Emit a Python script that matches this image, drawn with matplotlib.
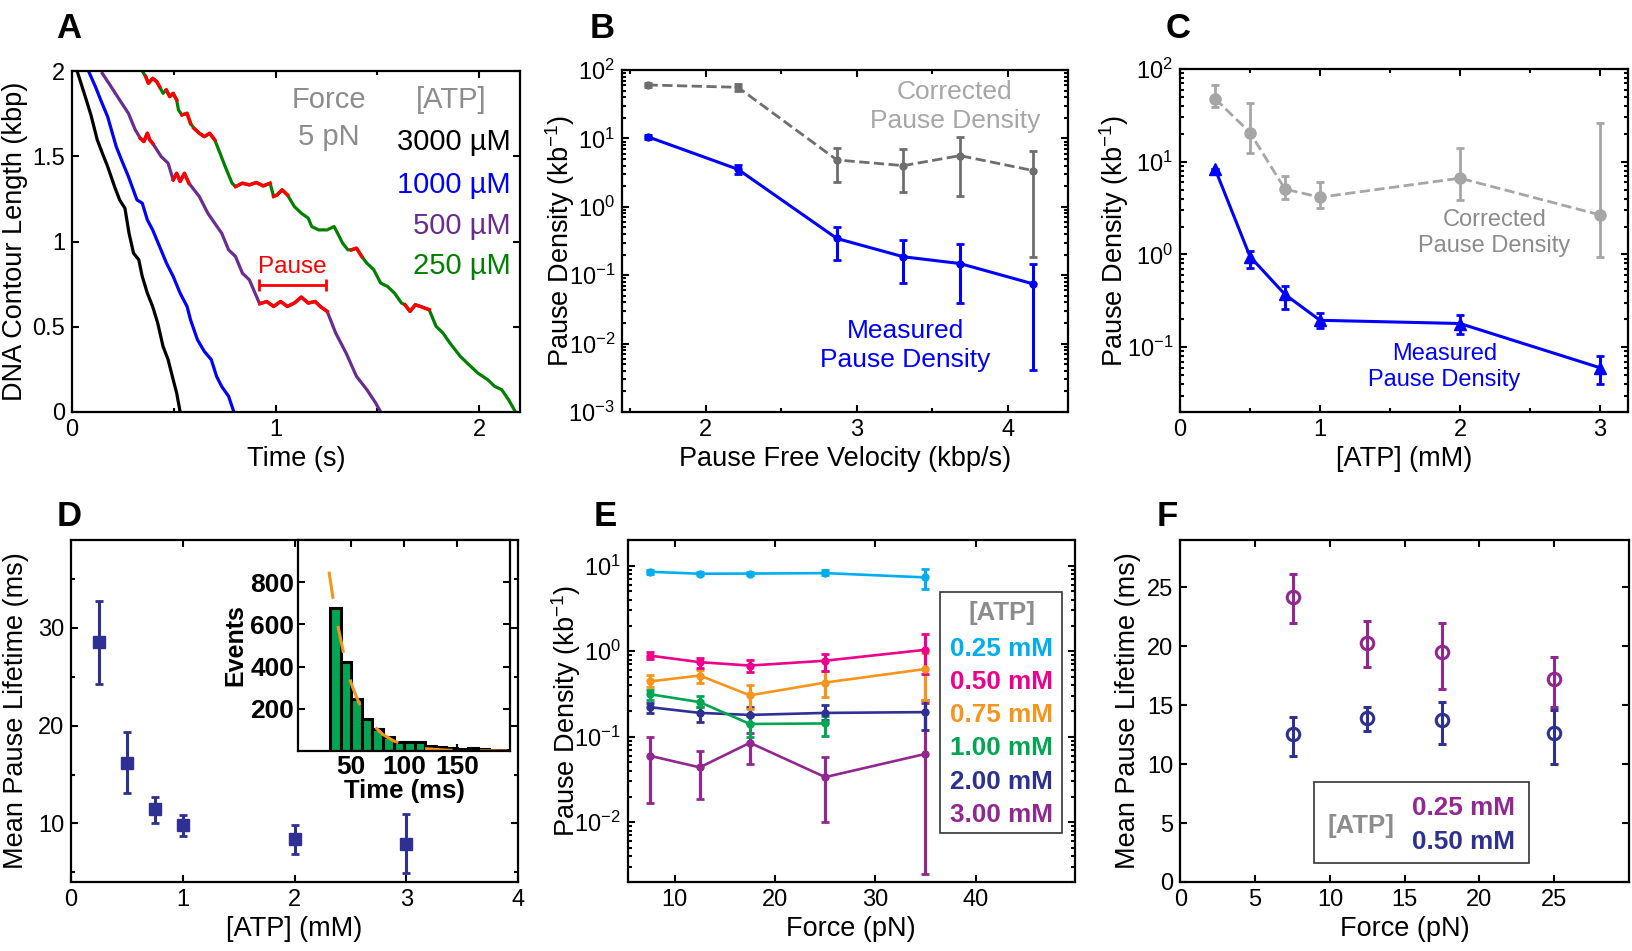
import numpy as np
import matplotlib
matplotlib.use('Agg')
import matplotlib.pyplot as plt
from matplotlib.ticker import MultipleLocator, LogLocator, NullFormatter, FixedLocator
from matplotlib.patches import Rectangle

plt.rcParams['font.family'] = ['Liberation Sans', 'DejaVu Sans']
plt.rcParams['mathtext.fontset'] = 'custom'
plt.rcParams['mathtext.rm'] = 'Liberation Sans'
plt.rcParams['mathtext.default'] = 'regular'
plt.rcParams['axes.unicode_minus'] = False

# ---------------- panel A: traces (time s, contour kbp) ----------------
black_t = [0.025, 0.065, 0.093, 0.124, 0.149, 0.175, 0.209, 0.234, 0.26, 0.28, 0.302, 0.328, 0.345,
           0.37, 0.396, 0.421, 0.447, 0.472, 0.497, 0.514, 0.531]
black_y = [2.0, 1.85, 1.742, 1.596, 1.518, 1.44, 1.322, 1.244, 1.195, 1.049, 0.932, 0.893, 0.795,
           0.697, 0.619, 0.521, 0.385, 0.307, 0.189, 0.111, 0.0]
blue_t = [0.081, 0.115, 0.141, 0.175, 0.217, 0.243, 0.277, 0.319, 0.345, 0.37, 0.396, 0.43, 0.464,
          0.497, 0.531, 0.565, 0.582, 0.616, 0.65, 0.684, 0.71, 0.735, 0.769, 0.795]
blue_y = [2.0, 1.908, 1.83, 1.732, 1.557, 1.479, 1.381, 1.244, 1.225, 1.127, 1.068, 0.971, 0.873,
          0.795, 0.697, 0.619, 0.541, 0.424, 0.355, 0.307, 0.209, 0.15, 0.092, 0.0]
purple_t = [0.149, 0.192, 0.234, 0.277, 0.311, 0.336, 0.353, 0.37, 0.382, 0.396, 0.438, 0.472, 0.497,
            0.514, 0.531, 0.552, 0.574, 0.625, 0.667, 0.701, 0.735, 0.769, 0.803, 0.837, 0.871, 0.913,
            0.922, 0.956, 0.99, 1.024, 1.058, 1.092, 1.126, 1.16, 1.194, 1.219, 1.253,
            1.295, 1.346, 1.397, 1.448, 1.491, 1.516]
purple_y = [1.986, 1.908, 1.83, 1.752, 1.654, 1.605, 1.586, 1.635, 1.596, 1.576, 1.498, 1.459, 1.361,
            1.4, 1.352, 1.4, 1.342, 1.264, 1.166, 1.107, 1.049, 0.951, 0.912, 0.814, 0.775, 0.658,
            0.635, 0.648, 0.619, 0.648, 0.619, 0.639, 0.674, 0.639, 0.648, 0.619, 0.59,
            0.463, 0.346, 0.209, 0.131, 0.053, 0.0]
green_t = [0.345, 0.362, 0.375, 0.396, 0.416, 0.43, 0.447, 0.463, 0.48, 0.497, 0.514, 0.523, 0.54,
           0.565, 0.582, 0.599, 0.625, 0.65, 0.676, 0.701, 0.727, 0.752, 0.786, 0.803, 0.837, 0.871,
           0.905, 0.939, 0.973, 0.99, 1.007, 1.032, 1.058, 1.092, 1.126, 1.16, 1.177, 1.211, 1.253,
           1.287, 1.304, 1.329, 1.355, 1.372, 1.397, 1.423, 1.448, 1.482, 1.516, 1.55, 1.584, 1.618,
           1.635, 1.66, 1.686, 1.711, 1.754, 1.788, 1.822, 1.856, 1.907, 1.941, 1.992, 2.042, 2.076,
           2.11, 2.144, 2.178]
green_y = [2.0, 1.967, 1.928, 1.957, 1.938, 1.908, 1.869, 1.889, 1.85, 1.869, 1.83, 1.771, 1.742,
           1.752, 1.693, 1.664, 1.635, 1.615, 1.635, 1.596, 1.518, 1.44, 1.342, 1.322, 1.342, 1.332,
           1.346, 1.326, 1.342, 1.264, 1.273, 1.303, 1.273, 1.205, 1.166, 1.137, 1.088, 1.068, 1.068,
           1.088, 1.049, 0.99, 0.951, 0.951, 0.961, 0.912, 0.873, 0.834, 0.756, 0.736, 0.697, 0.639,
           0.629, 0.59, 0.629, 0.619, 0.6, 0.502, 0.463, 0.404, 0.326, 0.287, 0.229, 0.189, 0.15,
           0.131, 0.072, 0.0]
purple_pauses = [(0.336, 0.396), (0.497, 0.574), (0.92, 1.253)]
green_pauses = [(0.36, 0.43), (0.455, 0.515), (0.525, 0.585), (0.595, 0.705), (0.80, 0.975),
                (0.99, 1.06), (1.37, 1.425), (1.63, 1.755)]
pause_bar = (0.92, 1.245, 0.745)
atp_labels_A = ['3000 \u00b5M', '1000 \u00b5M', '500 \u00b5M', '250 \u00b5M']

# ---------------- panel B ----------------
vel = [1.616, 2.214, 2.87, 3.31, 3.685, 4.168]
meas_B = [10.6, 3.54, 0.344, 0.186, 0.148, 0.0748]
meas_B_lo = [9.9, 3.0, 0.168, 0.0766, 0.039, 0.00415]
meas_B_hi = [11.3, 4.1, 0.515, 0.33, 0.284, 0.145]
corr_B = [60.4, 55.9, 4.84, 4.0, 5.6, 3.39]
corr_B_lo = [56.0, 49.0, 2.34, 1.67, 1.45, 0.184]
corr_B_hi = [65.0, 62.0, 7.18, 7.0, 10.6, 6.6]

# ---------------- panel C ----------------
atp_C = [0.25, 0.5, 0.75, 1.0, 2.0, 3.0]
meas_C = [8.4, 0.95, 0.37, 0.195, 0.18, 0.06]
meas_C_lo = [8.4, 0.72, 0.26, 0.16, 0.14, 0.0397]
meas_C_hi = [8.4, 1.1, 0.46, 0.235, 0.22, 0.0806]
corr_C = [48.0, 20.6, 5.06, 4.14, 6.65, 2.67]
corr_C_lo = [39.0, 12.4, 4.0, 3.2, 3.9, 0.93]
corr_C_hi = [67.0, 42.6, 7.1, 6.0, 14.0, 26.4]

# ---------------- panel D ----------------
atp_D = [0.25, 0.5, 0.75, 1.0, 2.0, 3.0]
life_D = [28.57, 16.18, 11.43, 9.8, 8.37, 7.93]
life_D_lo = [24.3, 13.1, 10.07, 8.7, 6.85, 4.9]
life_D_hi = [32.8, 19.35, 12.7, 10.85, 9.8, 11.0]
hist_left = [30, 40, 50, 60, 70, 80, 90, 100, 110, 120, 130, 140, 150, 160, 170, 180, 190]
hist_counts = [680, 421, 245, 154, 106, 66, 45, 42, 42, 24, 18, 13, 8, 13, 8, 5, 5]
fit_t = [29, 35, 40, 45, 50, 55, 60, 70, 80, 90, 100, 120, 140, 160, 180, 200]
fit_y = [850, 650, 530, 410, 320, 255, 200, 125, 78, 48, 30, 11, 4, 1.5, 0.6, 0.2]

# ---------------- panel E ----------------
force_E = [7.5, 12.5, 17.5, 25, 35]
atp_E = ['0.25 mM', '0.50 mM', '0.75 mM', '1.00 mM', '2.00 mM', '3.00 mM']
dens_E = [[8.5, 8.06, 8.1, 8.2, 7.3],
          [0.89, 0.745, 0.68, 0.775, 1.04],
          [0.443, 0.52, 0.305, 0.43, 0.62],
          [0.315, 0.254, 0.141, 0.143],
          [0.222, 0.19, 0.18, 0.19, 0.194],
          [0.06, 0.0438, 0.085, 0.0337, 0.063]]
dens_E_lo = [[8.1, 7.7, 7.7, 7.7, 5.4],
             [0.81, 0.64, 0.57, 0.58, 0.54],
             [0.385, 0.42, 0.21, 0.29, 0.27],
             [0.27, 0.22, 0.10, 0.103],
             [0.19, 0.15, 0.145, 0.155, 0.12],
             [0.017, 0.0188, 0.048, 0.0101, 0.0025]]
dens_E_hi = [[8.9, 8.4, 8.5, 8.8, 9.2],
             [0.97, 0.84, 0.79, 0.94, 1.6],
             [0.53, 0.61, 0.40, 0.58, 0.95],
             [0.355, 0.30, 0.173, 0.173],
             [0.245, 0.222, 0.222, 0.235, 0.27],
             [0.10, 0.069, 0.11, 0.058, 0.25]]
colors_E = ['#00aeef', '#ec008c', '#f7941d', '#00a651', '#2e3192', '#92278f']

# ---------------- panel F ----------------
force_F = [7.5, 12.5, 17.5, 25]
atp_F = ['0.25 mM', '0.50 mM']
life_F = [[24.2, 20.3, 19.5, 17.2], [12.57, 13.9, 13.75, 12.6]]
life_F_lo = [[22.0, 18.2, 16.35, 14.8], [10.7, 12.8, 11.7, 10.0]]
life_F_hi = [[26.1, 22.1, 21.95, 19.1], [14.0, 14.8, 15.3, 14.6]]
colors_F = ['#92278f', '#2e3192']

W, H = 1632, 951
fig = plt.figure(figsize=(W / 100, H / 100), dpi=100)
TICK = 17
LAB = 19.5
GRAY = '#8c8c8c'


def px_axes(l, r, t, b):
    return fig.add_axes([l / W, 1 - b / H, (r - l) / W, (b - t) / H])


def style(ax):
    ax.tick_params(which='both', direction='in', top=True, right=True, labelsize=TICK, width=1.5, pad=5)
    ax.tick_params(which='major', length=5)
    ax.tick_params(which='minor', length=3)
    for s in ax.spines.values():
        s.set_linewidth(1.6)


def logstyle(ax):
    ax.set_yscale('log')
    ax.yaxis.set_major_locator(LogLocator(base=10, numticks=12))
    ax.yaxis.set_minor_locator(LogLocator(base=10, subs=np.arange(2, 10), numticks=12))
    ax.yaxis.set_minor_formatter(NullFormatter())


def errs(y, lo, hi):
    y, lo, hi = np.array(y), np.array(lo), np.array(hi)
    return [y - lo, hi - y]


# ---- A ----
ax = px_axes(72, 520, 71, 412)
style(ax)
for t, y, c, pauses in [(black_t, black_y, 'black', []), (blue_t, blue_y, '#0000ff', []),
                        (purple_t, purple_y, '#6a2c91', purple_pauses),
                        (green_t, green_y, '#008000', green_pauses)]:
    t = np.array(t)
    y = np.array(y)
    ax.plot(t, y, color=c, lw=2.3)
    for a, b in pauses:
        m = (t >= a) & (t <= b)
        ax.plot(t[m], y[m], color='#ff0000', lw=2.5)
p0, p1, py = pause_bar
ax.errorbar([(p0 + p1) / 2], [py], xerr=[(p1 - p0) / 2], color='#ff0000', lw=2, capsize=4, capthick=2)
ax.text((p0 + p1) / 2, 0.85, 'Pause', color='#ff0000', fontsize=17.5, ha='center', va='center')
ax.text(1.26, 1.83, 'Force', color=GRAY, fontsize=21, ha='center', va='center')
ax.text(1.26, 1.615, '5 pN', color=GRAY, fontsize=21, ha='center', va='center')
ax.text(1.864, 1.83, '[ATP]', color=GRAY, fontsize=21, ha='center', va='center')
for lab, c, yy in zip(atp_labels_A, ['black', '#0000ff', '#6a2c91', '#008000'], [1.586, 1.332, 1.088, 0.854]):
    ax.text(2.153, yy, lab, color=c, fontsize=21, ha='right', va='center')
ax.set_xlim(0, 2.2)
ax.set_ylim(0, 2)
ax.xaxis.set_major_locator(FixedLocator([0, 1, 2]))
ax.xaxis.set_minor_locator(MultipleLocator(0.5))
ax.set_yticks([0, 0.5, 1, 1.5, 2])
ax.set_yticklabels(['0', '0.5', '1', '1.5', '2'])
ax.set_xlabel('Time (s)', fontsize=LAB)
ax.set_ylabel('DNA Contour Length (kbp)', fontsize=LAB)
ax.yaxis.set_label_coords(-0.098, 0.5)

# ---- B ----
ax = px_axes(622, 1068, 70, 412)
style(ax)
logstyle(ax)
ax.errorbar(vel, corr_B, yerr=errs(corr_B, corr_B_lo, corr_B_hi), color='#6e6e6e', ls='--', lw=2,
            marker='o', ms=5, capsize=3, capthick=2, elinewidth=2)
ax.errorbar(vel, meas_B, yerr=errs(meas_B, meas_B_lo, meas_B_hi), color='#0000ff', lw=2.2,
            marker='o', ms=5, capsize=3, capthick=2, elinewidth=2.2)
ax.text(3.65, 29, 'Corrected\nPause Density', color='#a6a6a6', fontsize=19, ha='center', va='center',
        linespacing=1.25)
ax.text(3.324, 0.0094, 'Measured\nPause Density', color='#0000ff', fontsize=19, ha='center', va='center',
        linespacing=1.25)
ax.set_xlim(1.447, 4.4)
ax.set_ylim(1e-3, 1e2)
ax.xaxis.set_major_locator(FixedLocator([2, 3, 4]))
ax.xaxis.set_minor_locator(MultipleLocator(0.5))
ax.set_xlabel('Pause Free Velocity (kbp/s)', fontsize=LAB)
ax.set_ylabel('Pause Density (kb$^{-1}$)', fontsize=LAB)
ax.yaxis.set_label_coords(-0.1, 0.5)

# ---- C ----
ax = px_axes(1180, 1628, 69, 412)
style(ax)
logstyle(ax)
ax.errorbar(atp_C, corr_C, yerr=errs(corr_C, corr_C_lo, corr_C_hi), color='#a6a6a6', ls='--', lw=2,
            marker='o', ms=8, capsize=3, capthick=2, elinewidth=2)
ax.errorbar(atp_C, meas_C, yerr=errs(meas_C, meas_C_lo, meas_C_hi), color='#0000ff', lw=2.2,
            marker='^', ms=9, capsize=3, capthick=2, elinewidth=2.2)
ax.text(2.247, 1.7, 'Corrected\nPause Density', color='#8c8c8c', fontsize=17, ha='center', va='center',
        linespacing=1.25)
ax.text(1.888, 0.061, 'Measured\nPause Density', color='#0000ff', fontsize=17, ha='center', va='center',
        linespacing=1.25)
ax.set_xlim(0, 3.2)
ax.set_ylim(0.02, 100)
ax.xaxis.set_major_locator(FixedLocator([0, 1, 2, 3]))
ax.xaxis.set_minor_locator(MultipleLocator(0.5))
ax.set_xlabel('[ATP] (mM)', fontsize=LAB)
ax.set_ylabel('Pause Density (kb$^{-1}$)', fontsize=LAB)
ax.yaxis.set_label_coords(-0.109, 0.5)

# ---- D ----
ax = px_axes(71, 518, 540, 882)
style(ax)
ax.errorbar(atp_D, life_D, yerr=errs(life_D, life_D_lo, life_D_hi), color='#2e3192', ls='none',
            marker='s', ms=8, capsize=3, capthick=2, elinewidth=2.2)
ax.set_xlim(0, 4)
ax.set_ylim(4, 39)
ax.xaxis.set_major_locator(MultipleLocator(1))
ax.yaxis.set_major_locator(FixedLocator([10, 20, 30]))
ax.yaxis.set_minor_locator(MultipleLocator(5))
ax.set_xlabel('[ATP] (mM)', fontsize=LAB)
ax.set_ylabel('Mean Pause Lifetime (ms)', fontsize=LAB)
ax.yaxis.set_label_coords(-0.093, 0.5)

axi = px_axes(298.3, 510, 540, 751)
style(axi)
axi.bar(hist_left, hist_counts, width=10, align='edge', color='#00a651', edgecolor='black', lw=2.2)
axi.plot(fit_t, fit_y, color='#f7941d', lw=2.2, dashes=(9, 9))
axi.set_xlim(0, 200)
axi.set_ylim(0, 1000)
axi.set_xticks([50, 100, 150])
axi.set_yticks([200, 400, 600, 800])
for lab in axi.get_xticklabels() + axi.get_yticklabels():
    lab.set_fontweight('bold')
axi.tick_params(labelsize=19, pad=3)
axi.set_xlabel('Time (ms)', fontsize=18.5, fontweight='bold', labelpad=0)
axi.set_ylabel('Events', fontsize=18, fontweight='bold', labelpad=2)

# ---- E ----
ax = px_axes(627.5, 1075, 540, 882)
style(ax)
logstyle(ax)
for i in range(len(atp_E) - 1, -1, -1):
    n = len(dens_E[i])
    ax.errorbar(force_E[:n], dens_E[i], yerr=errs(dens_E[i], dens_E_lo[i], dens_E_hi[i]), color=colors_E[i],
                lw=1.9, marker='o', ms=5, capsize=3, capthick=2, elinewidth=2.3)
ax.set_xlim(5.3, 49.9)
ax.set_ylim(0.002, 20)
ax.xaxis.set_major_locator(FixedLocator([10, 20, 30, 40]))
ax.set_xlabel('Force (pN)', fontsize=LAB)
ax.set_ylabel('Pause Density (kb$^{-1}$)', fontsize=LAB)
ax.yaxis.set_label_coords(-0.1, 0.5)
ax.add_patch(Rectangle((0.698, 0.143), 0.273, 0.704, transform=ax.transAxes, fill=True, facecolor='white',
                       edgecolor='#333333', lw=1.2, zorder=5))
ax.text(0.836, 0.786, '[ATP]', transform=ax.transAxes, color=GRAY, fontsize=18.5, fontweight='bold',
        ha='center', va='center', zorder=6)
for i, lab in enumerate(atp_E):
    ax.text(0.951, 0.682 - i * 0.0972, lab, transform=ax.transAxes, color=colors_E[i], fontsize=18.8,
            fontweight='bold', ha='right', va='center', zorder=6)

# ---- F ----
ax = px_axes(1180.4, 1629, 540, 882)
style(ax)
for i in range(len(atp_F)):
    ax.errorbar(force_F, life_F[i], yerr=errs(life_F[i], life_F_lo[i], life_F_hi[i]), color=colors_F[i],
                ls='none', marker='o', ms=9, mfc='none', mew=2.2, capsize=3, capthick=2, elinewidth=2.2)
ax.set_xlim(0, 30)
ax.set_ylim(0, 29)
ax.set_xticks([0, 5, 10, 15, 20, 25])
ax.set_yticks([0, 5, 10, 15, 20, 25])
ax.set_xlabel('Force (pN)', fontsize=LAB)
ax.set_ylabel('Mean Pause Lifetime (ms)', fontsize=LAB)
ax.yaxis.set_label_coords(-0.088, 0.5)
ax.add_patch(Rectangle((0.298, 0.0555), 0.48, 0.2365, transform=ax.transAxes, fill=True, facecolor='white',
                       edgecolor='#333333', lw=1.2, zorder=5))
ax.text(0.402, 0.165, '[ATP]', transform=ax.transAxes, color=GRAY, fontsize=18.5, fontweight='bold',
        ha='center', va='center', zorder=6)
for i, lab in enumerate(atp_F):
    ax.text(0.746, 0.216 - i * 0.1, lab, transform=ax.transAxes, color=colors_F[i], fontsize=18.8,
            fontweight='bold', ha='right', va='center', zorder=6)

# panel letters
for letter, x, y in [('A', 69, 28), ('B', 602, 28), ('C', 1178, 28), ('D', 69, 517), ('E', 605, 517),
                     ('F', 1167, 517)]:
    fig.text(x / W, 1 - y / H, letter, fontsize=25, fontweight='bold', ha='center', va='center')

fig.savefig('out.png', dpi=100)
